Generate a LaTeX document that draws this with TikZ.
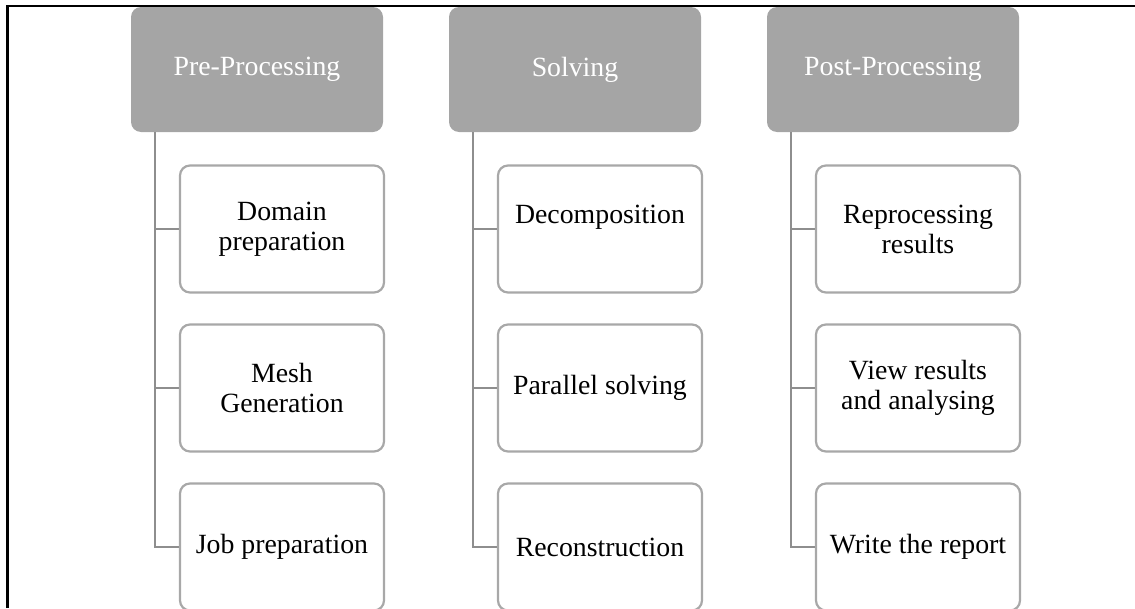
\documentclass[tikz,border=0pt]{standalone}
\usepackage{fontspec}
\setmainfont{Liberation Serif}
\usepackage{tikz}
\usetikzlibrary{positioning}
\usepackage{xcolor}
\definecolor{hdrgray}{HTML}{A5A5A5}
\definecolor{boxgray}{HTML}{A8A8A8}
\definecolor{linkgray}{HTML}{8E8E8E}

\begin{document}
\begin{tikzpicture}[x=1pt,y=1pt,node distance=159pt,on grid]
    \tikzstyle{phase}=[shape=rectangle,fill=hdrgray,text=white,rounded corners=10pt,minimum width=252pt,minimum height=125pt,font=\fontsize{27.8}{30}\selectfont]
    \tikzstyle{task}=[shape=rectangle,draw=boxgray,line width=2.2pt,rounded corners=10pt,fill=white,minimum width=204pt,minimum height=127pt,align=center,font=\fontsize{27.8}{30}\selectfont]
    \tikzstyle{link}=[draw=linkgray,line width=2.2pt]

    \useasboundingbox (0,0) rectangle (1135,-608);
    \draw[line width=2.6pt] (7.5,-608) -- (7.5,-6) -- (1135,-6);

    \node[phase] (PreHdr) at (257,-69.5) {Pre-Processing};
    \node[phase, right=318pt of PreHdr] (SolHdr) {Solving};
    \node[phase, right=318pt of SolHdr] (PostHdr) {Post-Processing};

    \node[task, below right=159.5pt and 25pt of PreHdr] (DomPrep) {Domain\\preparation};
    \node[task, below of=DomPrep] (MeshGen) {Mesh\\Generation};
    \node[task, below of=MeshGen] (JobPrep) {Job preparation};

    \node[task, below right=159.5pt and 25pt of SolHdr] (Decomp) {Decomposition\\~};
    \node[task, below of=Decomp] (ParSolve) {Parallel solving};
    \node[task, below of=ParSolve] (Recon) {Reconstruction};

    \node[task, below right=159.5pt and 25pt of PostHdr] (Reproc) {Reprocessing\\results};
    \node[task, below of=Reproc] (ViewRes) {View results\\and analysing};
    \node[task, below of=ViewRes] (Report) {Write the report};

    \path[link]
    ([xshift=24pt]PreHdr.south west) |- (DomPrep.west)
    ([xshift=24pt]PreHdr.south west) |- (MeshGen.west)
    ([xshift=24pt]PreHdr.south west) |- (JobPrep.west)
    ([xshift=24pt]SolHdr.south west) |- (Decomp.west)
    ([xshift=24pt]SolHdr.south west) |- (ParSolve.west)
    ([xshift=24pt]SolHdr.south west) |- (Recon.west)
    ([xshift=24pt]PostHdr.south west) |- (Reproc.west)
    ([xshift=24pt]PostHdr.south west) |- (ViewRes.west)
    ([xshift=24pt]PostHdr.south west) |- (Report.west)
    ;
\end{tikzpicture}
\end{document}
